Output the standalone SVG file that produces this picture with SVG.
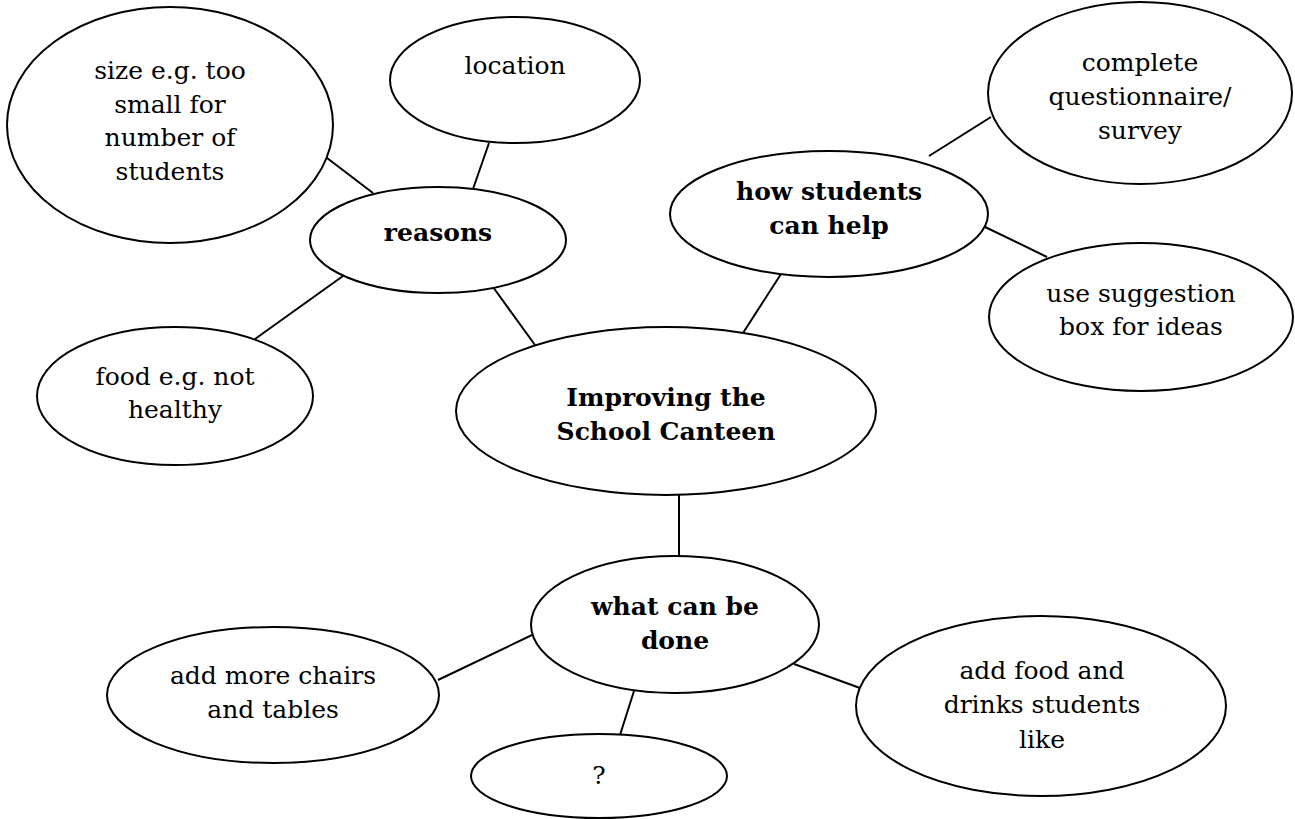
<svg xmlns="http://www.w3.org/2000/svg" width="1295" height="819" viewBox="0 0 1295 819">
<style>
.n ellipse{fill:#fff;stroke:#000;stroke-width:2}
.c line{stroke:#000;stroke-width:2}
text{font-family:'DejaVu Serif','Liberation Serif',serif;font-size:25px;fill:#000;text-anchor:middle}
.b{font-weight:bold}
</style>
<rect width="1295" height="819" fill="#fff"/>
<g id="connectors" class="c">
<line x1="327" y1="158" x2="373" y2="193"/>
<line x1="489" y1="143" x2="473" y2="189"/>
<line x1="343" y1="276" x2="255" y2="339"/>
<line x1="493" y1="287" x2="535" y2="345"/>
<line x1="781" y1="274" x2="743" y2="333"/>
<line x1="929" y1="156" x2="991" y2="117"/>
<line x1="983" y1="226" x2="1047" y2="257"/>
<line x1="679" y1="495" x2="679" y2="556"/>
<line x1="532" y1="635" x2="438" y2="680"/>
<line x1="634" y1="691" x2="620" y2="735"/>
<line x1="794" y1="664" x2="860" y2="688"/>
</g>
<g id="size" class="n"><ellipse cx="170" cy="125" rx="163" ry="118"/>
<text x="170" y="79">size e.g. too</text><text x="170" y="113">small for</text><text x="170" y="146">number of</text><text x="170" y="180">students</text></g>
<g id="location" class="n"><ellipse cx="515" cy="80" rx="125" ry="63"/>
<text x="515" y="74">location</text></g>
<g id="reasons" class="n"><ellipse cx="438" cy="240" rx="128" ry="53"/>
<text class="b" x="438" y="241">reasons</text></g>
<g id="food" class="n"><ellipse cx="175" cy="396" rx="138" ry="69"/>
<text x="175" y="385">food e.g. not</text><text x="175" y="418">healthy</text></g>
<g id="center" class="n"><ellipse cx="666" cy="411" rx="210" ry="84"/>
<text class="b" x="666" y="406">Improving the</text><text class="b" x="666" y="440">School Canteen</text></g>
<g id="how" class="n"><ellipse cx="829" cy="214" rx="159" ry="63"/>
<text class="b" x="829" y="200">how students</text><text class="b" x="829" y="234">can help</text></g>
<g id="complete" class="n"><ellipse cx="1140" cy="93" rx="152" ry="91"/>
<text x="1140" y="71">complete</text><text x="1140" y="105">questionnaire/</text><text x="1140" y="139">survey</text></g>
<g id="suggestion" class="n"><ellipse cx="1141" cy="317" rx="152" ry="74"/>
<text x="1141" y="302">use suggestion</text><text x="1141" y="335">box for ideas</text></g>
<g id="what" class="n"><ellipse cx="675" cy="624.5" rx="144" ry="68.5"/>
<text class="b" x="675" y="615">what can be</text><text class="b" x="675" y="649">done</text></g>
<g id="chairs" class="n"><ellipse cx="273" cy="695" rx="166" ry="68"/>
<text x="273" y="684">add more chairs</text><text x="273" y="718">and tables</text></g>
<g id="question" class="n"><ellipse cx="599" cy="776" rx="128" ry="42"/>
<text x="599" y="784">?</text></g>
<g id="drinks" class="n"><ellipse cx="1041" cy="706" rx="185" ry="90"/>
<text x="1042" y="679">add food and</text><text x="1042" y="713">drinks students</text><text x="1042" y="748">like</text></g>
</svg>
